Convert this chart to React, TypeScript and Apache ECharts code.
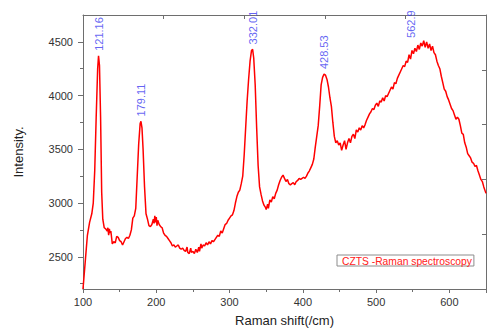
import React, { useEffect, useRef } from "react";
import * as echarts from "echarts";

const ramanShift = [
  100, 103, 106, 109, 112, 114, 116, 118, 120, 121.2, 122.5, 124, 125.5, 127, 129, 131, 133, 134, 135, 136,
  137, 138, 140, 142, 144, 146, 148, 150, 152, 154, 156, 158, 160, 162, 164, 166, 168, 170, 172, 174,
  176, 178, 179.1, 180.5, 182, 184, 186, 188, 190, 192, 194, 196, 197, 198, 199, 200, 201, 202, 204, 206,
  208, 210, 212, 214, 216, 218, 220, 222, 224, 226, 228, 230, 232, 234, 236, 238, 240, 242, 243, 245,
  247, 248, 250, 252, 254, 256, 258, 259, 261, 262, 264, 266, 268, 270, 272, 274, 276, 278, 280, 282,
  284, 286, 288, 290, 292, 294, 296, 298, 300, 302, 304, 306, 308, 310, 312, 314, 316, 318, 320, 322,
  324, 326, 328, 330, 331.5, 333, 335, 337, 339, 341, 343, 345, 347, 349, 350, 352, 353, 355, 357, 359,
  361, 363, 365, 367, 369, 371, 373, 375, 377, 379, 381, 383, 385, 387, 389, 391, 393, 395, 397, 399,
  401, 403, 405, 407, 409, 411, 413, 415, 417, 419, 421, 423, 425, 427, 429, 431, 433, 435, 437, 439,
  441, 443, 445, 447, 449, 451, 453, 455, 457, 459, 461, 463, 465, 467, 469, 471, 473, 475, 477, 479,
  481, 483, 485, 487, 489, 491, 493, 495, 497, 499, 501, 503, 505, 507, 509, 511, 513, 515, 517, 519,
  521, 523, 525, 527, 529, 531, 533, 535, 537, 539, 541, 543, 545, 547, 549, 551, 553, 555, 557, 559,
  561, 563, 565, 567, 569, 571, 573, 575, 577, 579, 581, 583, 585, 587, 589, 591, 593, 595, 597, 599,
  601, 603, 605, 607, 609, 611, 613, 615, 617, 619, 621, 623, 625, 627, 629, 631, 633, 635, 637, 639,
  641, 643, 645, 647, 650,
];

const intensity = [
  2200, 2450, 2700, 2820, 2900, 3000, 3300, 3800, 4250, 4370, 4280, 3800, 3100, 2850, 2770, 2760, 2740, 2770, 2700, 2760,
  2720, 2740, 2620, 2640, 2630, 2690, 2680, 2650, 2640, 2610, 2640, 2670, 2680, 2670, 2700, 2750, 2860, 2880, 2950, 3250,
  3550, 3740, 3760, 3700, 3500, 3150, 2900, 2850, 2790, 2780, 2800, 2850, 2810, 2880, 2820, 2870, 2790, 2840, 2800, 2780,
  2770, 2720, 2700, 2690, 2670, 2650, 2630, 2600, 2610, 2590, 2600, 2610, 2580, 2570, 2580, 2560, 2550, 2590, 2540, 2530,
  2580, 2540, 2550, 2530, 2570, 2540, 2590, 2550, 2620, 2580, 2610, 2600, 2630, 2610, 2640, 2620, 2650, 2640, 2660, 2680,
  2700, 2690, 2740, 2720, 2760, 2800, 2810, 2840, 2860, 2880, 2890, 2930, 3000, 3060, 3100, 3120, 3180, 3250, 3450, 3700,
  3950, 4150, 4320, 4420, 4430, 4350, 4100, 3700, 3350, 3150, 3080, 3020, 2980, 2960, 2940, 2990, 2950, 3030, 3010, 3060,
  3040, 3090, 3120, 3170, 3210, 3240, 3260, 3230, 3200, 3220, 3180, 3170, 3180, 3190, 3170, 3200, 3210, 3230, 3220, 3230,
  3240, 3230, 3250, 3280, 3300, 3330, 3360, 3410, 3520, 3620, 3720, 3900, 4100, 4170, 4200, 4190, 4150, 4080, 3980, 3900,
  3750, 3620, 3560, 3580, 3540, 3560, 3490, 3540, 3580, 3500, 3560, 3600, 3560, 3620, 3640, 3600, 3680, 3660, 3700, 3680,
  3720, 3700, 3730, 3770, 3800, 3830, 3850, 3880, 3870, 3910, 3930, 3900, 3950, 3940, 3980, 3950, 4000, 3990, 4020, 4050,
  4080, 4060, 4120, 4110, 4160, 4190, 4220, 4250, 4280, 4270, 4320, 4310, 4380, 4340, 4420, 4390, 4440, 4410, 4470, 4430,
  4490, 4460, 4510, 4450, 4500, 4440, 4480, 4420, 4460, 4400, 4380, 4320, 4280, 4250, 4180, 4120, 4060, 4040, 3990, 3960,
  3920, 3880, 3860, 3820, 3780, 3800, 3780, 3720, 3650, 3640, 3560, 3520, 3460, 3440, 3420, 3380, 3370, 3340, 3350, 3300,
  3260, 3220, 3200, 3150, 3090,
];

const peakShift = [121.16, 179.11, 332.01, 428.53, 562.9];
const peakIntensity = [4370, 3760, 4430, 4200, 4490];
const peakLabels = ["121.16", "179.11", "332.01", "428.53", "562.9"];

const yTickValues = [2500, 3000, 3500, 4000, 4500];
const yMinorTickValues = [2250, 2750, 3250, 3750, 4250];

const seriesName = "CZTS -Raman spectroscopy";
const FONT = "'Liberation Sans', Arial, sans-serif";
const FRAME = "#6e6e6e";

export default function App() {
  const ref = useRef<HTMLDivElement>(null);
  useEffect(() => {
    if (!ref.current) return;
    const chart = echarts.init(ref.current, null, { renderer: "svg" });
    const lineData = ramanShift.map((x, i) => [x, intensity[i]]);
    const peakData = peakShift.map((x, i) => ({
      value: [x, peakIntensity[i]],
      label: { formatter: peakLabels[i], offset: i === 4 ? [0, -11] : [0, 0] },
    }));
    chart.setOption({
      animation: false,
      backgroundColor: "#ffffff",
      textStyle: { fontFamily: FONT },
      grid: { left: 83, right: 1, top: 15, bottom: 42, containLabel: false },
      legend: {
        data: [seriesName],
        left: 337,
        top: 255,
        icon: "none",
        itemWidth: 0,
        itemHeight: 0,
        itemGap: 0,
        padding: [1, 2, 0, 0],
        borderColor: "#8c8c8c",
        borderWidth: 1,
        textStyle: { color: "#ff2020", fontSize: 10.3, fontFamily: FONT },
      },
      xAxis: [
        {
          type: "value",
          min: 100,
          max: 650,
          interval: 100,
          name: "Raman shift(/cm)",
          nameLocation: "middle",
          nameGap: 25,
          nameTextStyle: { fontSize: 13, color: "#222", fontFamily: FONT, verticalAlign: "top" },
          axisLine: { show: true, lineStyle: { color: FRAME, width: 1 } },
          axisTick: { show: true, inside: false, length: 4, lineStyle: { color: FRAME } },
          minorTick: { show: true, splitNumber: 2, length: 3, lineStyle: { color: FRAME } },
          axisLabel: {
            margin: 7,
            fontSize: 11,
            color: "#333",
            fontFamily: FONT,
            showMaxLabel: false,
            formatter: (v: number) => String(v),
          },
          splitLine: { show: false },
        },
        {
          type: "value",
          position: "top",
          min: 0,
          max: 5,
          interval: 1,
          axisLine: { show: true, onZero: false, lineStyle: { color: FRAME, width: 1 } },
          axisTick: { show: true, inside: true, length: 4, lineStyle: { color: FRAME } },
          axisLabel: { show: false },
          splitLine: { show: false },
        },
      ],
      yAxis: [
        {
          type: "value",
          min: 2200,
          max: 4750,
          name: "Intensity.",
          nameLocation: "middle",
          nameGap: 58,
          nameTextStyle: { fontSize: 13, color: "#222", fontFamily: FONT },
          axisLine: { show: true, lineStyle: { color: FRAME, width: 1 } },
          axisTick: { show: true, inside: false, length: 5, customValues: yTickValues, lineStyle: { color: FRAME } },
          axisLabel: {
            margin: 10,
            fontSize: 11,
            color: "#333",
            fontFamily: FONT,
            customValues: yTickValues,
            formatter: (v: number) => String(v),
          },
          splitLine: { show: false },
        },
        {
          type: "value",
          position: "left",
          min: 2200,
          max: 4750,
          axisLine: { show: false },
          axisTick: { show: true, inside: false, length: 3, customValues: yMinorTickValues, lineStyle: { color: FRAME } },
          axisLabel: { show: false, customValues: yMinorTickValues },
          splitLine: { show: false },
        },
        {
          type: "value",
          position: "right",
          min: 0,
          max: 5,
          interval: 1,
          axisLine: { show: true, onZero: false, lineStyle: { color: FRAME, width: 1 } },
          axisTick: { show: true, inside: true, length: 4, lineStyle: { color: FRAME } },
          axisLabel: { show: false },
          splitLine: { show: false },
        },
      ],
      series: [
        {
          name: seriesName,
          type: "line",
          xAxisIndex: 0,
          yAxisIndex: 0,
          data: lineData,
          showSymbol: false,
          symbol: "none",
          color: "#ff0000",
          lineStyle: { color: "#ff0000", width: 1.5 },
          clip: true,
        },
        {
          name: "peaks",
          type: "scatter",
          xAxisIndex: 0,
          yAxisIndex: 0,
          symbolSize: 0,
          data: peakData,
          silent: true,
          label: {
            show: true,
            position: "top",
            distance: 5,
            rotate: 90,
            align: "left",
            verticalAlign: "middle",
            color: "#3c3cf0",
            fontSize: 11,
            fontFamily: FONT,
          },
        },
      ],
    });
    return () => chart.dispose();
  }, []);
  return (
    <div
      ref={ref}
      style={{ position: "fixed", left: 0, top: 0, width: 487, height: 332 }}
    />
  );
}
